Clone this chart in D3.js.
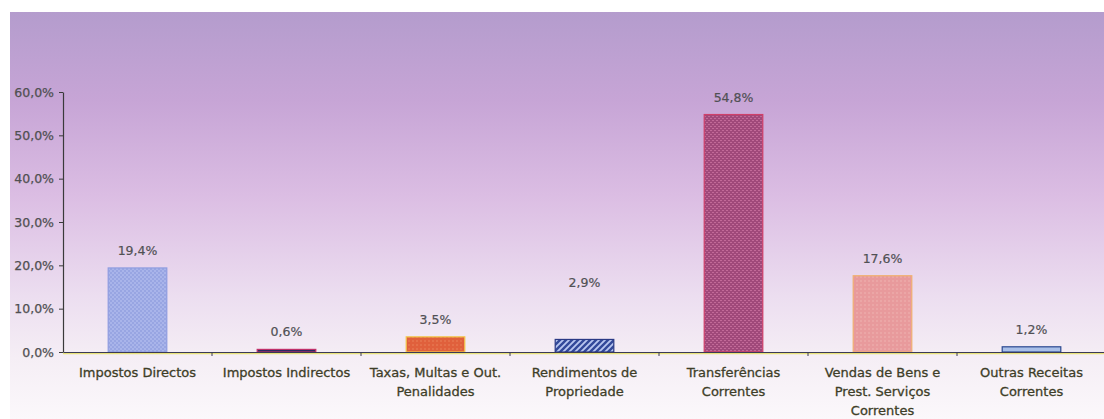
<!DOCTYPE html>
<html><head><meta charset="utf-8">
<script src="https://cdn.jsdelivr.net/npm/d3@7"></script>
<style>body{margin:0;background:#fff}svg{display:block}</style>
</head><body>
<svg id="c" width="1104" height="419"></svg>
<script>
const categories = ["Impostos Directos","Impostos Indirectos","Taxas, Multas e Out. Penalidades","Rendimentos de Propriedade","Transferências Correntes","Vendas de Bens e Prest. Serviços Correntes","Outras Receitas Correntes"];
const categoryLines = [["Impostos Directos"],["Impostos Indirectos"],["Taxas, Multas e Out.","Penalidades"],["Rendimentos de","Propriedade"],["Transferências","Correntes"],["Vendas de Bens e","Prest. Serviços","Correntes"],["Outras Receitas","Correntes"]];
const values = [19.4, 0.6, 3.5, 2.9, 54.8, 17.6, 1.2];
const yTicks = [0, 10, 20, 30, 40, 50, 60];

// styles
const labelLift = [13, 13, 13, 52, 13, 13, 13];
const barFills = ["url(#p0)","url(#p1)","url(#p2)","url(#p3)","url(#p4)","url(#p5)","url(#p6)"];
const barStrokes = ["#8f9de0","#c0306a","#f2c84a","#2a3a85","#d0406a","#f0b070","#2a4890"];

const svg = d3.select("#c");
const defs = svg.append("defs");
const g = defs.append("linearGradient").attr("id","bg").attr("x1",0).attr("y1",0).attr("x2",0).attr("y2",1);
[[0,"#b49ccd"],[0.22,"#c7a5d6"],[0.45,"#dbbde3"],[0.7,"#ecdef0"],[0.85,"#f5eef5"],[1,"#fbf8fb"]].forEach(([o,c])=>g.append("stop").attr("offset",o).attr("stop-color",c));

function pat(id, w, h, bg, draw){
  const p = defs.append("pattern").attr("id",id).attr("patternUnits","userSpaceOnUse").attr("width",w).attr("height",h);
  p.append("rect").attr("width",w).attr("height",h).attr("fill",bg);
  draw(p);
}
pat("p0",4,4,"#98a5e2",p=>{p.append("rect").attr("x",0).attr("y",0).attr("width",2).attr("height",2).attr("fill","#a9b4ea");p.append("rect").attr("x",2).attr("y",2).attr("width",2).attr("height",2).attr("fill","#a9b4ea");});
pat("p1",4,4,"#2a2a60",p=>{});
pat("p2",4,4,"#e0603c",p=>{p.append("rect").attr("width",2).attr("height",2).attr("fill","#e4704a");});
pat("p3",6,6,"#b8c6f0",p=>{p.append("path").attr("d","M-1,7 L7,-1 M-4,4 L4,-4 M2,10 L10,2").attr("stroke","#33499a").attr("stroke-width",2.4);});
pat("p4",4,4,"#a0497a",p=>{p.append("rect").attr("x",0).attr("y",0).attr("width",2).attr("height",1).attr("fill","#c26a98");p.append("rect").attr("x",2).attr("y",2).attr("width",2).attr("height",1).attr("fill","#c26a98");});
pat("p5",4,4,"#e89a9c",p=>{p.append("rect").attr("width",2).attr("height",2).attr("fill","#eba6a6");});
pat("p6",4,4,"#a8bfe8",p=>{});

svg.append("rect").attr("x",10).attr("y",12).attr("width",1094).attr("height",407).attr("fill","url(#bg)");

const x = d3.scaleBand().domain(categories).range([63, 1106]).paddingInner(0.6).paddingOuter(0.3);
const y = d3.scaleLinear().domain([0, 60]).range([352, 92]);

// bars
svg.append("g").selectAll("rect").data(values).join("rect")
  .attr("x",(d,i)=>x(categories[i])+0.5)
  .attr("y",d=>y(d))
  .attr("width",x.bandwidth()-1)
  .attr("height",d=>y(0)-y(d))
  .attr("fill",(d,i)=>barFills[i])
  .attr("stroke",(d,i)=>barStrokes[i])
  .attr("stroke-width",1.2);

// y axis
const fmt = v => v.toFixed(1).replace(".",",") + "%";
const ya = svg.append("g").attr("transform","translate(63,0)")
  .call(d3.axisLeft(y).tickValues(yTicks).tickFormat(fmt).tickSize(4).tickSizeOuter(0));
ya.select(".domain").attr("stroke","#3a3a3a").attr("stroke-width",1.2);
ya.selectAll(".tick line").attr("stroke","#3a3a3a");
ya.selectAll(".tick text").attr("font-family","DejaVu Sans").attr("font-size",12.5).attr("fill","#505052")
  .attr("stroke","#505052").attr("stroke-width",0.25).attr("x",-9);

// x axis
svg.append("line").attr("x1",63).attr("x2",1104).attr("y1",353.5).attr("y2",353.5).attr("stroke","#e8e27a").attr("stroke-width",1.5);
const xa = svg.append("g").attr("transform","translate(0,352)")
  .call(d3.axisBottom(x).tickSize(0).tickFormat(""));
xa.select(".domain").attr("stroke","#3a3a55").attr("stroke-width",1.2);
const bounds = categories.slice(1).map(c => x(c) - x.step()*x.paddingInner()/2);
svg.append("g").selectAll("line").data(bounds).join("line")
  .attr("x1",d=>d).attr("x2",d=>d).attr("y1",352).attr("y2",356).attr("stroke","#3a3a55");

// value labels
svg.append("g").selectAll("text").data(values).join("text")
  .attr("x",(d,i)=>x(categories[i])+x.bandwidth()/2)
  .attr("y",(d,i)=>y(d)-labelLift[i])
  .attr("text-anchor","middle")
  .attr("font-family","DejaVu Sans").attr("font-size",12.5).attr("fill","#505054")
  .attr("stroke","#505054").attr("stroke-width",0.2)
  .text(d=>d.toFixed(1).replace(".",",")+"%");

// category labels
const cl = svg.append("g").selectAll("text").data(categories).join("text")
  .attr("text-anchor","middle")
  .attr("font-family","DejaVu Sans").attr("font-size",13).attr("fill","#3e3e28")
  .attr("stroke","#3e3e28").attr("stroke-width",0.3)
  .attr("transform",c=>`translate(${x(c)+x.bandwidth()/2},377)`);
cl.selectAll("tspan").data((c,i)=>categoryLines[i]).join("tspan")
  .attr("x",0).attr("dy",(d,j)=>j===0?0:19).text(d=>d);
</script>
</body></html>
